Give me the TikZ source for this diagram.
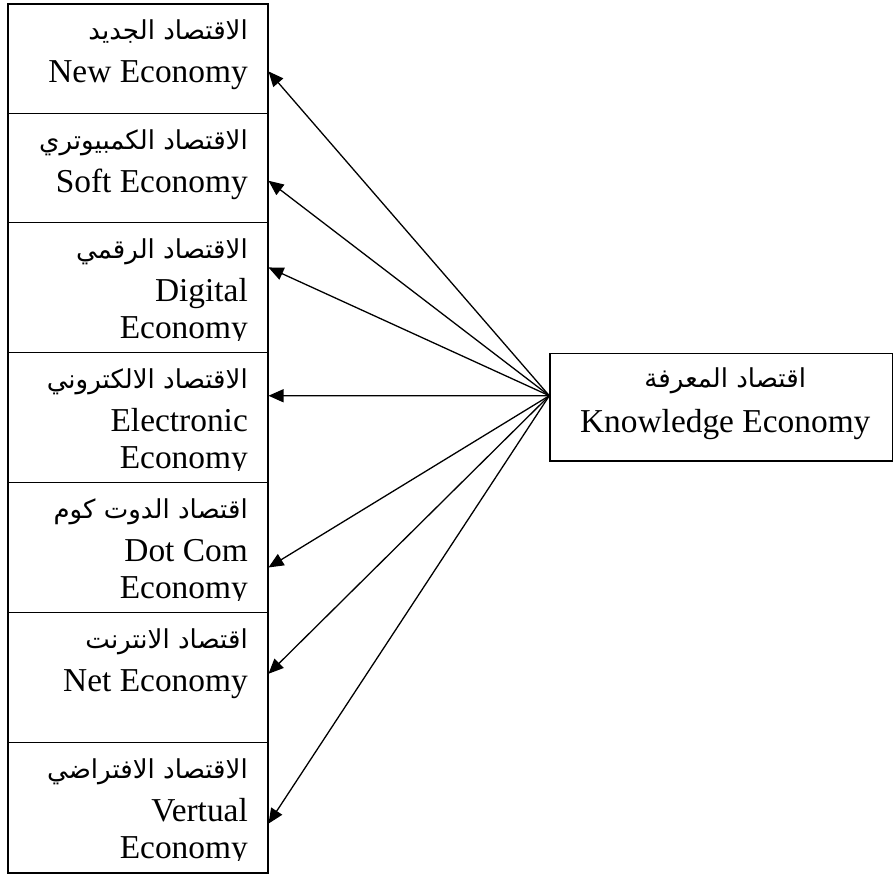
\documentclass[tikz,border=0pt]{standalone}
\usepackage{fontspec}
\setmainfont{Liberation Serif}
\newfontfamily\arabicfont[Script=Arabic,Scale=0.78]{DejaVu Sans}
\TeXXeTstate=1
\usetikzlibrary{arrows.meta}

\tikzset{econbox/.style={draw, line width=0.75pt, inner sep=0pt, minimum width=130pt, anchor=north west},
         boxtext/.style={inner sep=0pt, minimum width=0pt, minimum height=0pt, anchor=base east},
         arr/.style={line width=0.65pt, -{Triangle[length=7.5pt,width=6.5pt]}}}

% box on the left: name, top, height, arabic line, english lines
% (text is cut off at the inner bottom margin)
\newcommand{\econitem}[6]{%
  \node[econbox, minimum height=#3, path picture={
      \clip ([yshift=6pt]path picture bounding box.south west) rectangle (path picture bounding box.north east);
      \node[boxtext] at ([xshift=-9.6pt,yshift=-18pt]path picture bounding box.north east) {#4};
      \node[boxtext] at ([xshift=-9.6pt,yshift=-39.5pt]path picture bounding box.north east) {#5};
      \node[boxtext] at ([xshift=-9.6pt,yshift=-58pt]path picture bounding box.north east) {#6};
    }] (#1) at (7,#2) {};}

\begin{document}
\begin{tikzpicture}[x=0.5pt, y=-0.5pt, font=\fontsize{16.7pt}{18pt}\selectfont]
\useasboundingbox (0,0) rectangle (893,873);

\econitem{n1}{3}{54.85pt}{\arabicfont\beginR الاقتصاد الجديد\endR}{New Economy}{}
\econitem{n2}{112.7}{54.5pt}{\arabicfont\beginR الاقتصاد الكمبيوتري\endR}{Soft Economy}{}
\econitem{n3}{221.7}{65pt}{\arabicfont\beginR الاقتصاد الرقمي\endR}{Digital}{Economy}
\econitem{n4}{351.7}{65pt}{\arabicfont\beginR الاقتصاد الالكتروني\endR}{Electronic}{Economy}
\econitem{n5}{481.7}{65pt}{\arabicfont\beginR اقتصاد الدوت كوم\endR}{Dot Com}{Economy}
\econitem{n6}{611.7}{65pt}{\arabicfont\beginR اقتصاد الانترنت\endR}{Net Economy}{}
\econitem{n7}{741.7}{65.15pt}{\arabicfont\beginR الاقتصاد الافتراضي\endR}{Vertual}{Economy}

% knowledge economy
\node[draw, line width=0.75pt, inner sep=0pt, minimum width=171.2pt, minimum height=53.65pt, anchor=north west, path picture={
    \node[boxtext, anchor=base] at ([xshift=2pt,yshift=-17pt]path picture bounding box.north) {\arabicfont\beginR اقتصاد المعرفة\endR};
    \node[boxtext, anchor=base] at ([xshift=2pt,yshift=-39.5pt]path picture bounding box.north) {Knowledge Economy};
  }] (knw) at (549.3,352.7) {};
\coordinate (hub) at ([yshift=5.7pt]knw.west);

\foreach \b/\dy in {n1/-6.4, n2/-6.4, n3/10, n4/10.85, n5/-10, n6/1.85, n7/-8}
  \draw[arr] (hub) -- ([yshift=\dy pt]\b.east);
\end{tikzpicture}
\end{document}
